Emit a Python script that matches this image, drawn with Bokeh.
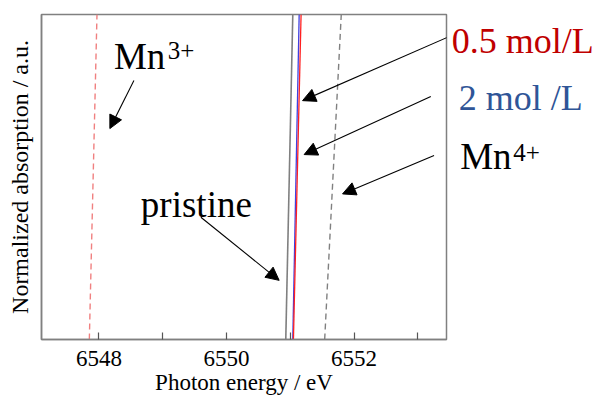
from bokeh.plotting import figure
from bokeh.layouts import row
from bokeh.models import Range1d, FixedTicker, Arrow, NormalHead, Label
from bokeh.embed import file_html
from bokeh.resources import INLINE

# --- data ---
# normalized-absorption window shown (arbitrary units), lines span it bottom -> top
absorption = [0.0, 1.0]
energy_mn3_ref = [6547.85, 6547.97]     # Mn3+ reference (dashed, light red)
energy_pristine = [6550.93, 6551.04]    # pristine (grey)
energy_05 = [6551.05, 6551.17]          # 0.5 mol/L (red)
energy_2 = [6551.04, 6551.14]           # 2 mol/L (blue)
energy_mn4_ref = [6551.54, 6551.80]     # Mn4+ reference (dashed, grey)

major_ticks = [6548, 6550, 6552]
minor_ticks = [6549, 6551, 6553]

x_range = (6547.10, 6553.45)
y_range = (0.0, 1.0)
side_x_range = (6553.48, 6555.84)   # continuation of the energy scale for the legend texts

SERIF = "Liberation Serif"
H = 397

p = figure(width=448, height=H, output_backend="svg", toolbar_location=None,
           x_range=Range1d(*x_range), y_range=Range1d(*y_range),
           min_border_left=41, min_border_right=2, min_border_top=14, min_border_bottom=58)
p.grid.visible = False
p.background_fill_color = "white"
p.border_fill_color = "white"
p.outline_line_color = "#808080"
p.outline_line_width = 1.5

# x axis
xa = p.xaxis[0]
xa.ticker = FixedTicker(ticks=major_ticks, minor_ticks=minor_ticks)
xa.axis_label = "Photon energy / eV"
xa.axis_label_text_font = SERIF
xa.axis_label_text_font_style = "normal"
xa.axis_label_text_font_size = "23px"
xa.axis_label_text_color = "black"
xa.axis_label_standoff = 1
xa.major_label_text_font = SERIF
xa.major_label_text_font_size = "23px"
xa.major_label_text_color = "black"
xa.major_label_standoff = 11
xa.axis_line_color = "#808080"
xa.axis_line_width = 1.5
xa.major_tick_in = 7
xa.major_tick_out = 0
xa.minor_tick_in = 7
xa.minor_tick_out = 0
xa.major_tick_line_color = "#555555"
xa.minor_tick_line_color = "#555555"
xa.major_tick_line_width = 1.2
xa.minor_tick_line_width = 1.2

# y axis
ya = p.yaxis[0]
ya.ticker = FixedTicker(ticks=[])
ya.axis_label = "Normalized absorption / a.u."
ya.axis_label_text_font = SERIF
ya.axis_label_text_font_style = "normal"
ya.axis_label_text_font_size = "24px"
ya.axis_label_text_color = "black"
ya.axis_label_standoff = 9
ya.major_tick_in = 0
ya.major_tick_out = 0
ya.minor_tick_in = 0
ya.minor_tick_out = 0
ya.major_label_text_font_size = "0px"
ya.major_label_standoff = 0
ya.axis_line_color = "#808080"
ya.axis_line_width = 1.5

# lines
p.line(energy_mn3_ref, absorption, line_color="#F08080", line_width=1.4, line_dash="6 4")
p.line(energy_mn4_ref, absorption, line_color="#808080", line_width=1.4, line_dash="6 4")
p.line(energy_pristine, absorption, line_color="#808080", line_width=1.6)
p.line(energy_2, absorption, line_color="#4040E0", line_width=1.3)
p.line(energy_05, absorption, line_color="#FF2020", line_width=1.3)

# arrows (annotation positions)
arrows = [
    ((6548.549, 0.797), (6548.172, 0.649)),   # Mn3+
    ((6553.466, 0.930), (6551.193, 0.735)),   # 0.5 mol/L
    ((6553.204, 0.748), (6551.218, 0.569)),   # 2 mol/L
    ((6553.255, 0.566), (6551.820, 0.448)),   # Mn4+
    ((6549.599, 0.376), (6550.826, 0.182)),   # pristine
]
for (xs, ys), (xe, ye) in arrows:
    p.add_layout(Arrow(x_start=xs, y_start=ys, x_end=xe, y_end=ye,
                       line_color="black", line_width=1.1,
                       end=NormalHead(size=13, fill_color="black", line_color="black")))

def lab(fig, x, y, t, size, color="black"):
    fig.add_layout(Label(x=x, y=y, text=t, text_font=SERIF, text_font_size=size,
                         text_color=color, text_baseline="alphabetic", text_align="left"))

lab(p, 6548.235, 0.872, "Mn", "37px")
lab(p, 6549.080, 0.889, "3+", "25px")
lab(p, 6548.658, 0.4155, "pristine", "37px")

# side panel holding the texts to the right of the plot box
s = figure(width=150, height=H, output_backend="svg", toolbar_location=None,
           x_range=Range1d(*side_x_range), y_range=Range1d(*y_range),
           x_axis_type=None, y_axis_type=None,
           min_border_left=0, min_border_right=0, min_border_top=14, min_border_bottom=58)
s.grid.visible = False
s.outline_line_color = None
s.background_fill_color = "white"
s.border_fill_color = "white"

lab(s, 6553.533, 0.918, "0.5 mol/L", "36px", "#C00000")
lab(s, 6553.643, 0.742, "2 mol /L", "36px", "#2F5597")
lab(s, 6553.663, 0.564, "Mn", "37px")
lab(s, 6554.500, 0.5755, "4+", "25px")

layout = row(p, s, spacing=0)
open("out.html", "w").write(file_html(layout, INLINE))
